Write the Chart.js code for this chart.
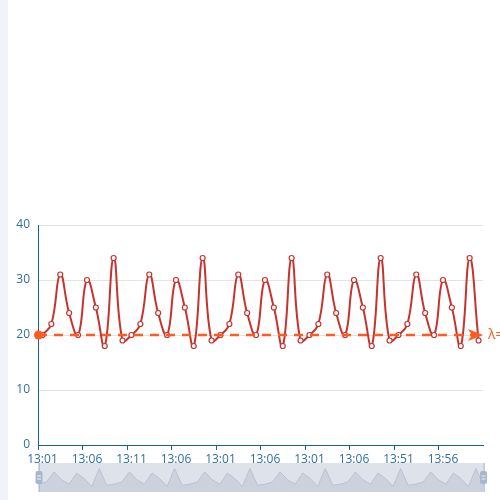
<!DOCTYPE html>
<html>
<head>
<meta charset="utf-8">
<script src="https://cdn.jsdelivr.net/npm/chart.js@4/dist/chart.umd.min.js"></script>
<style>
  body { margin: 0; background: #fff; }
  #strip { position: absolute; left: 0; top: 0; width: 8px; height: 500px; background: #f2f3f8; }
  #main { position: absolute; left: 0; top: 0; }
  #slider { position: absolute; left: 30px; top: 458px; }
</style>
</head>
<body>
<div id="strip"></div>
<canvas id="main" width="500" height="500"></canvas>
<canvas id="slider" width="462" height="38"></canvas>
<script>
// x axis: 50 categories, a label under every 5th one
var tickLabels = ["13:01", "13:06", "13:11", "13:06", "13:01", "13:06", "13:01", "13:06", "13:51", "13:56"];
var categoryCount = 50;

// series values (the slider preview shows all of them, the plot the first 50)
var values = [
  20, 22, 31, 24, 20, 30, 25, 18, 34, 19,
  20, 22, 31, 24, 20, 30, 25, 18, 34, 19,
  20, 22, 31, 24, 20, 30, 25, 18, 34, 19,
  20, 22, 31, 24, 20, 30, 25, 18, 34, 19,
  20, 22, 31, 24, 20, 30, 25, 18, 34, 19,
  20, 22, 31, 24, 20, 30, 25, 18, 34, 19
];

var yTicks = [0, 10, 20, 30, 40];
var markValue = 20;
var markLabel = "λ=20";

var categories = [];
for (var i = 0; i < categoryCount; i++) {
  categories.push(i % 5 === 0 ? tickLabels[i / 5] : "c" + i);
}

var axisBlue = "#1a5f9e";
var labelBlue = "#2f6ea5";
var markColor = "#ff5a1f";

// horizontal mark line with round start and arrow end
var markLinePlugin = {
  id: "markLine",
  afterDatasetsDraw: function (chart) {
    var ctx = chart.ctx;
    var area = chart.chartArea;
    var y = chart.scales.y.getPixelForValue(markValue);
    ctx.save();
    ctx.strokeStyle = markColor;
    ctx.fillStyle = markColor;
    ctx.lineWidth = 2.5;
    ctx.setLineDash([9, 7]);
    ctx.beginPath();
    ctx.moveTo(area.left, y);
    ctx.lineTo(area.right - 8, y);
    ctx.stroke();
    ctx.setLineDash([]);
    ctx.beginPath();
    ctx.arc(area.left + 0.5, y, 4.5, 0, Math.PI * 2);
    ctx.fill();
    ctx.beginPath();
    ctx.moveTo(area.right, y);
    ctx.lineTo(area.right - 15, y - 6);
    ctx.lineTo(area.right - 11, y);
    ctx.lineTo(area.right - 15, y + 6);
    ctx.closePath();
    ctx.fill();
    ctx.font = "14px 'Open Sans'";
    ctx.textBaseline = "middle";
    ctx.textAlign = "left";
    ctx.fillText(markLabel, area.right + 5, y);
    ctx.restore();
  }
};

new Chart(document.getElementById("main"), {
  type: "line",
  data: {
    labels: categories,
    datasets: [{
      data: values.slice(0, categoryCount),
      borderColor: "#c6332e",
      borderWidth: 2,
      tension: 0.45,
      pointRadius: 2.5,
      pointBorderWidth: 1.2,
      pointBackgroundColor: "#fff",
      pointBorderColor: "#c6332e",
      clip: false
    }]
  },
  options: {
    responsive: false,
    devicePixelRatio: 1,
    animation: false,
    layout: { padding: { left: 0, right: 17, top: 225, bottom: 35 } },
    plugins: { legend: { display: false }, tooltip: { enabled: false } },
    scales: {
      x: {
        offset: true,
        afterFit: function (s) { s.height = 20; },
        grid: {
          offset: true,
          drawOnChartArea: false,
          tickLength: 5,
          color: function (c) { return c.index % 5 === 0 ? axisBlue : "rgba(0,0,0,0)"; }
        },
        border: { color: axisBlue, width: 1 },
        ticks: {
          autoSkip: false,
          maxRotation: 0,
          padding: 2,
          color: labelBlue,
          font: { family: "Open Sans", size: 12 },
          callback: function (v, i) { return i % 5 === 0 ? tickLabels[i / 5] : ""; }
        }
      },
      y: {
        min: yTicks[0],
        max: yTicks[yTicks.length - 1],
        afterFit: function (s) { s.width = 38; },
        afterBuildTicks: function (s) { s.ticks = yTicks.map(function (v) { return { value: v }; }); },
        grid: { color: "#e3e3e3", drawTicks: false },
        border: { color: axisBlue, width: 1 },
        ticks: {
          padding: 8,
          color: labelBlue,
          font: { family: "Open Sans", size: 12 }
        }
      }
    }
  },
  plugins: [markLinePlugin]
});

// slider preview below the plot
var sliderPlugin = {
  id: "sliderFrame",
  beforeDatasetsDraw: function (chart) {
    var ctx = chart.ctx;
    var a = chart.chartArea;
    ctx.save();
    ctx.fillStyle = "#dde2eb";
    ctx.fillRect(a.left, a.top, a.right - a.left, a.bottom - a.top);
    ctx.restore();
  },
  afterDraw: function (chart) {
    var ctx = chart.ctx;
    var a = chart.chartArea;
    var mid = (a.top + a.bottom) / 2;
    ctx.save();
    [a.left, a.right].forEach(function (x) {
      ctx.fillStyle = "#aab5c6";
      ctx.fillRect(Math.round(x) - 0.5, a.top, 1.2, a.bottom - a.top);
      ctx.fillStyle = "#a9b7ca";
      ctx.beginPath();
      ctx.roundRect(x - 3.5, mid - 6.5, 7, 13, 2);
      ctx.fill();
      ctx.fillStyle = "#eef1f6";
      ctx.fillRect(x - 2, mid - 2, 4, 1);
      ctx.fillRect(x - 2, mid + 1, 4, 1);
    });
    ctx.restore();
  }
};

new Chart(document.getElementById("slider"), {
  type: "line",
  data: {
    labels: values.map(function (v, i) { return i; }),
    datasets: [{
      data: values,
      borderColor: "#bac2ce",
      borderWidth: 1,
      backgroundColor: "#ccd2dd",
      fill: "start",
      tension: 0,
      pointRadius: 0
    }]
  },
  options: {
    responsive: false,
    devicePixelRatio: 1,
    animation: false,
    layout: { padding: { left: 9, right: 8.5, top: 5, bottom: 4 } },
    plugins: { legend: { display: false }, tooltip: { enabled: false } },
    scales: {
      x: { display: false, offset: false },
      y: { display: false, min: 13, max: 39 }
    }
  },
  plugins: [sliderPlugin]
});
</script>
</body>
</html>
